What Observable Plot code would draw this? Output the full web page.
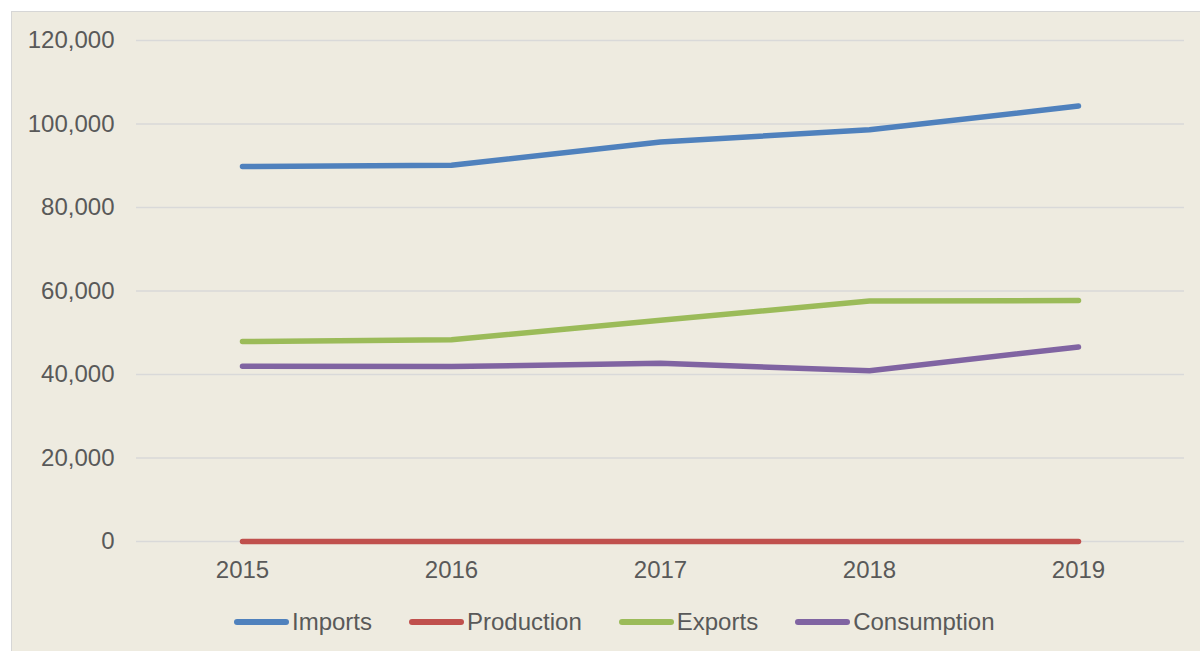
<!DOCTYPE html>
<html>
<head>
<meta charset="utf-8">
<script src="https://cdn.jsdelivr.net/npm/d3@7"></script>
<script src="https://cdn.jsdelivr.net/npm/@observablehq/plot@0.6"></script>
<style>
  html, body { margin: 0; padding: 0; background: #ffffff; }
  body { width: 1200px; height: 651px; overflow: hidden; font-family: "Liberation Sans", Arial, sans-serif; }
  #frame {
    position: absolute; left: 11px; top: 11px; width: 1189px; height: 640px;
    background: #EEEBE0; border-left: 1.5px solid #d6d6d6; border-top: 1.5px solid #d6d6d6;
    box-sizing: border-box;
  }
  #legend {
    position: absolute; left: 222px; top: 596px; display: flex; align-items: center;
    font-size: 24px; color: #595959; gap: 37px;
  }
  .item { display: flex; align-items: center; gap: 3px; }
  .sw { display: inline-block; width: 55px; height: 5.5px; border-radius: 3px; }
</style>
</head>
<body>
<div id="frame"><div id="chart"></div><div id="legend"></div></div>
<script>
const years = ["2015", "2016", "2017", "2018", "2019"];
const seriesNames = ["Imports", "Production", "Exports", "Consumption"];
const imports = [89800, 90100, 95700, 98600, 104300];
const production = [0, 0, 0, 0, 0];
const exportsV = [47900, 48300, 53000, 57600, 57700];
const consumption = [42000, 41900, 42700, 40900, 46600];
const colors = ["#4F81BD", "#C0504D", "#9BBB59", "#8064A2"];
const yTicks = [0, 20000, 40000, 60000, 80000, 100000, 120000];

const valuesBySeries = [imports, production, exportsV, consumption];
const rows = [];
seriesNames.forEach((s, i) => years.forEach((y, j) => rows.push({series: s, year: y, value: valuesBySeries[i][j]})));

const chart = Plot.plot({
  width: 1188,
  height: 580,
  marginLeft: 124,
  marginRight: 16,
  marginTop: 28,
  marginBottom: 51,
  style: {background: "transparent", fontFamily: "'Liberation Sans', Arial, sans-serif", fontSize: "24px", color: "#595959"},
  x: {type: "point", domain: years, padding: 0.5, label: null},
  y: {domain: [0, 120000], label: null},
  color: {domain: seriesNames, range: colors},
  marks: [
    Plot.gridY(yTicks, {stroke: "#d9d9d9", strokeOpacity: 1, strokeWidth: 1.5}),
    Plot.axisY(yTicks, {tickSize: 0, tickPadding: 22, tickFormat: d3.format(","), fill: "#595959", fontSize: 24}),
    Plot.axisX({tickSize: 0, tickPadding: 19, fill: "#595959", fontSize: 24}),
    Plot.line(rows, {x: "year", y: "value", z: "series", stroke: "series", strokeWidth: 5.5, strokeLinecap: "round", strokeLinejoin: "round"})
  ]
});
document.getElementById("chart").appendChild(chart);

const legend = document.getElementById("legend");
seriesNames.forEach((s, i) => {
  const it = document.createElement("div");
  it.className = "item";
  const sw = document.createElement("span");
  sw.className = "sw";
  sw.style.background = colors[i];
  const t = document.createElement("span");
  t.textContent = s;
  it.appendChild(sw); it.appendChild(t);
  legend.appendChild(it);
});
</script>
</body>
</html>
